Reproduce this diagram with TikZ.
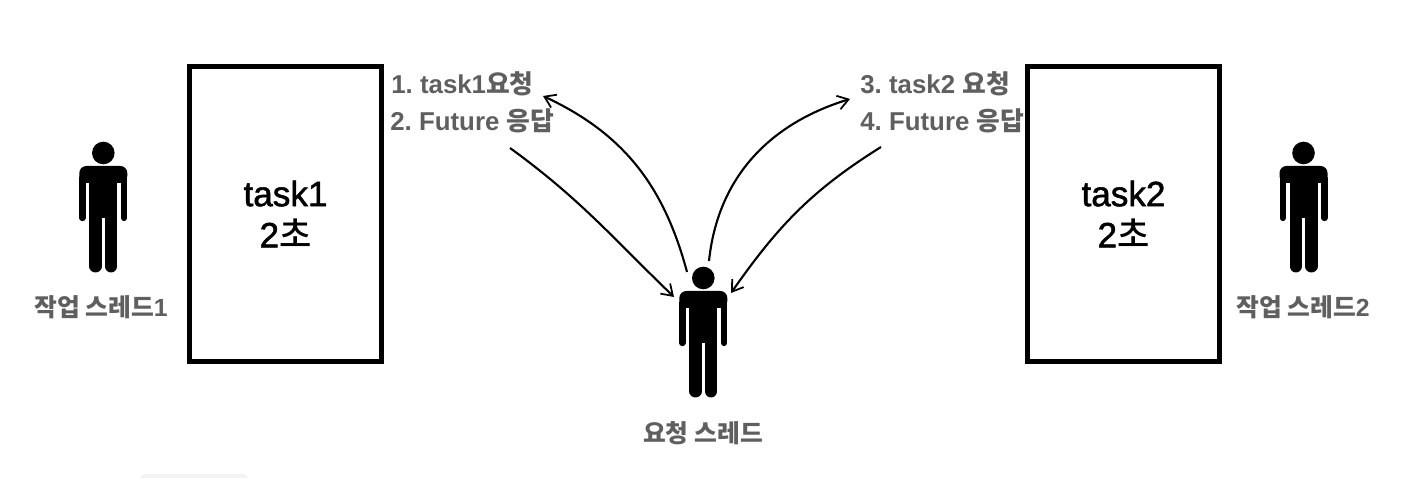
\documentclass[tikz,border=0pt]{standalone}
\usepackage{fontspec}
\setmainfont{Liberation Sans}
\newfontfamily\cjk{Noto Sans CJK KR}
\newfontfamily\medfont[FakeBold=1.4]{Liberation Sans}
\newfontfamily\medcjk{Noto Sans CJK KR Medium}
\usetikzlibrary{arrows.meta, calc}
\definecolor{labelgray}{HTML}{5F5F5F}
\definecolor{tabgray}{HTML}{F3F3F5}
\tikzset{
  taskbox/.style={draw=black, line width=3pt, fill=white, minimum width=3.84cm, minimum height=5.9cm, inner sep=0pt, align=center, font=\medfont\fontsize{20}{23.4}\selectfont},
  steplabel/.style={anchor=west, inner sep=0pt, text=labelgray, font=\bfseries\frenchspacing\fontsize{14.7}{17}\selectfont},
  threadlabel/.style={inner sep=0pt, text=labelgray, font=\bfseries\frenchspacing\fontsize{14.1}{17}\selectfont},
  callarrow/.style={-{Straight Barb[length=6pt, width=8pt, line width=1pt]}, line width=1.2pt, black},
  person/.pic={
    \fill (0, 0) circle (0.226);
    \fill[rounded corners=0.14cm] (-0.48, -0.6) -- (-0.48, -0.26) -- (0.48, -0.26) -- (0.48, -0.6) -- cycle;
    \fill (-0.28, -0.4) rectangle (0.28, -1.3);
    \draw[line width=0.126cm, line cap=round] (-0.417, -0.5) -- (-0.417, -1.3);
    \draw[line width=0.126cm, line cap=round] (0.417, -0.5) -- (0.417, -1.3);
    \draw[line width=0.25cm, line cap=round] (-0.155, -1.2) -- (-0.155, -2.265);
    \draw[line width=0.25cm, line cap=round] (0.155, -1.2) -- (0.155, -2.265);
  }
}
\newcommand{\kr}[1]{{\cjk #1}}
\begin{document}
\begin{tikzpicture}
\useasboundingbox (0, 0) rectangle (28.2, 9.56);
\fill[tabgray, rounded corners=0.1cm] (2.8, -0.2) rectangle (4.96, 0.08);

% boxes
\node[taskbox] (task1) at (5.71, 5.28) {task1\\2{\medcjk 초}};
\node[taskbox] (task2) at (22.47, 5.28) {task2\\2{\medcjk 초}};

% threads
\coordinate (worker1) at (2.066, 6.5);
\coordinate (worker2) at (26.07, 6.5);
\coordinate (caller) at (14.066, 4.0);
\pic at (worker1) {person};
\pic at (worker2) {person};
\pic at (caller) {person};
\node[threadlabel] (worker1label) at (2.02, 3.42) {\kr{작업 스레드}1};
\node[threadlabel] (worker2label) at (26.06, 3.42) {\kr{작업 스레드}2};
\node[threadlabel] (callerlabel) at (14.06, 0.9) {\kr{요청 스레드}};

% labels
\node[steplabel] (step1) at (7.82, 7.88) {1. task1\kr{요청}};
\node[steplabel] (step2) at (7.8, 7.14) {2. Future \kr{응답}};
\node[steplabel] (step3) at (17.2, 7.88) {3. task2 \kr{요청}};
\node[steplabel] (step4) at (17.2, 7.14) {4. Future \kr{응답}};

% calls
\coordinate (out1) at (13.74, 4.12);
\coordinate (in1) at (10.86, 7.64);
\coordinate (back1) at (10.2, 6.6);
\coordinate (home1) at (13.48, 3.62);
\coordinate (out2) at (14.18, 4.34);
\coordinate (in2) at (17.0, 7.58);
\coordinate (back2) at (17.62, 6.62);
\coordinate (home2) at (14.62, 3.7);
\draw[callarrow] (out1) to[out=105, in=-25] (in1);
\draw[callarrow] (back1) to[out=-36, in=136] (home1);
\draw[callarrow] (out2) to[out=84, in=197] (in2);
\draw[callarrow] (back2) to[out=-148, in=55] (home2);
\end{tikzpicture}
\end{document}
